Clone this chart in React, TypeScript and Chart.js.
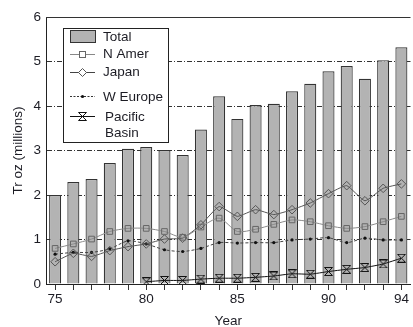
import React, { useEffect, useRef } from 'react';
import { Chart, registerables } from 'chart.js';

Chart.register(...registerables);

const years = ['75', '76', '77', '78', '79', '80', '81', '82', '83', '84', '85', '86', '87', '88', '89', '90', '91', '92', '93', '94'];
const total = [2.0, 2.29, 2.36, 2.72, 3.04, 3.08, 3.01, 2.9, 3.47, 4.22, 3.71, 4.02, 4.05, 4.33, 4.5, 4.78, 4.9, 4.61, 5.03, 5.32];
const nAmer = [0.8, 0.9, 1.01, 1.18, 1.25, 1.25, 1.18, 1.05, 1.28, 1.48, 1.18, 1.23, 1.34, 1.44, 1.4, 1.31, 1.25, 1.29, 1.4, 1.52];
const japan = [0.5, 0.69, 0.62, 0.75, 0.84, 0.9, 1.01, 1.03, 1.33, 1.74, 1.52, 1.67, 1.56, 1.67, 1.82, 2.03, 2.21, 1.87, 2.15, 2.25];
const wEurope = [0.67, 0.71, 0.71, 0.79, 0.97, 0.9, 0.77, 0.73, 0.8, 0.93, 0.92, 0.93, 0.93, 0.99, 1.01, 1.04, 0.93, 1.03, 0.99, 0.99];
const pacific = [null, null, null, null, null, 0.05, 0.08, 0.08, 0.11, 0.13, 0.13, 0.15, 0.18, 0.23, 0.22, 0.28, 0.33, 0.37, 0.45, 0.58];
const shownYears = ['75', '80', '85', '90', '94'];
const legendLabels = ['Total', 'N Amer', 'Japan', 'W Europe', 'Pacific', 'Basin'];

const FONT = '"Liberation Sans", Arial, Helvetica, sans-serif';
const TEXT = '#1c1c24';

function makeHourglass(): HTMLCanvasElement {
  const c = document.createElement('canvas');
  c.width = 9;
  c.height = 9;
  const g = c.getContext('2d')!;
  g.strokeStyle = '#111';
  g.lineWidth = 1;
  g.beginPath();
  g.moveTo(0.5, 0.5);
  g.lineTo(8.5, 0.5);
  g.moveTo(0.5, 8.5);
  g.lineTo(8.5, 8.5);
  g.moveTo(0.5, 0.5);
  g.lineTo(8.5, 8.5);
  g.moveTo(8.5, 0.5);
  g.lineTo(0.5, 8.5);
  g.stroke();
  return c;
}

export default function App() {
  const ref = useRef<HTMLCanvasElement | null>(null);

  useEffect(() => {
    if (!ref.current) return;
    const hourglass = makeHourglass();

    const frameAndLegend = {
      id: 'frameAndLegend',
      afterDraw(chart: any) {
        const { ctx, chartArea } = chart;
        ctx.save();
        // top frame line
        ctx.strokeStyle = '#333';
        ctx.lineWidth = 1;
        ctx.beginPath();
        ctx.moveTo(chartArea.left, chartArea.top + 0.5);
        ctx.lineTo(chartArea.right, chartArea.top + 0.5);
        ctx.stroke();

        // legend box
        const bx = 63.5, by = 28.5, bw = 105, bh = 114;
        ctx.fillStyle = '#fff';
        ctx.fillRect(bx, by, bw, bh);
        ctx.strokeStyle = '#222';
        ctx.lineWidth = 1;
        ctx.strokeRect(bx, by, bw, bh);

        const x0 = 70, x1 = 95, xm = 82.5;
        // Total
        ctx.fillStyle = '#b3b3b3';
        ctx.fillRect(70.5, 30.5, 25, 12);
        ctx.strokeStyle = '#333';
        ctx.strokeRect(70.5, 30.5, 25, 12);

        // N Amer
        ctx.strokeStyle = '#888';
        ctx.beginPath();
        ctx.moveTo(x0, 54.5);
        ctx.lineTo(x1, 54.5);
        ctx.stroke();
        ctx.fillStyle = '#fff';
        ctx.fillRect(xm - 3, 51.5, 6, 6);
        ctx.strokeStyle = '#666';
        ctx.strokeRect(xm - 3, 51.5, 6, 6);

        // Japan
        ctx.strokeStyle = '#444';
        ctx.beginPath();
        ctx.moveTo(x0, 72.5);
        ctx.lineTo(x1, 72.5);
        ctx.stroke();
        ctx.fillStyle = '#fff';
        ctx.beginPath();
        ctx.moveTo(xm, 68.5);
        ctx.lineTo(xm + 4, 72.5);
        ctx.lineTo(xm, 76.5);
        ctx.lineTo(xm - 4, 72.5);
        ctx.closePath();
        ctx.fill();
        ctx.strokeStyle = '#555';
        ctx.stroke();

        // W Europe
        ctx.strokeStyle = '#333';
        ctx.setLineDash([2, 1.5]);
        ctx.beginPath();
        ctx.moveTo(x0, 96.5);
        ctx.lineTo(x1, 96.5);
        ctx.stroke();
        ctx.setLineDash([]);
        ctx.fillStyle = '#111';
        ctx.beginPath();
        ctx.arc(xm, 96.5, 1.6, 0, Math.PI * 2);
        ctx.fill();

        // Pacific Basin
        ctx.strokeStyle = '#111';
        ctx.beginPath();
        ctx.moveTo(x0, 116.5);
        ctx.lineTo(x1, 116.5);
        ctx.stroke();
        ctx.drawImage(hourglass, xm - 4.5, 112);

        ctx.fillStyle = TEXT;
        ctx.font = '13.5px ' + FONT;
        ctx.textBaseline = 'middle';
        ctx.textAlign = 'left';
        ctx.fillText(legendLabels[0], 103, 37);
        ctx.fillText(legendLabels[1], 103, 54);
        ctx.fillText(legendLabels[2], 103, 72);
        ctx.fillText(legendLabels[3], 103, 97);
        ctx.fillText(legendLabels[4], 105, 117);
        ctx.fillText(legendLabels[5], 105, 133);
        ctx.restore();
      },
    };

    const chart = new Chart(ref.current, {
      type: 'bar',
      data: {
        labels: years,
        datasets: [
          {
            type: 'line',
            label: 'N Amer',
            data: nAmer,
            order: 0,
            borderColor: '#8a8a8a',
            borderWidth: 1,
            tension: 0.25,
            pointStyle: 'rect',
            pointRadius: 4,
            pointBorderColor: '#666',
            pointBorderWidth: 1,
            pointBackgroundColor: 'rgba(0,0,0,0)',
          },
          {
            type: 'line',
            label: 'Japan',
            data: japan,
            order: 0,
            borderColor: '#555',
            borderWidth: 1,
            tension: 0.15,
            pointStyle: 'rectRot',
            pointRadius: 4.3,
            pointBorderColor: '#555',
            pointBorderWidth: 1,
            pointBackgroundColor: 'rgba(0,0,0,0)',
          },
          {
            type: 'line',
            label: 'W Europe',
            data: wEurope,
            order: 0,
            borderColor: '#444',
            borderWidth: 1,
            borderDash: [3, 2],
            tension: 0.25,
            pointStyle: 'circle',
            pointRadius: 1.6,
            pointBorderWidth: 0,
            pointBackgroundColor: '#111',
          },
          {
            type: 'line',
            label: 'Pacific Basin',
            data: pacific,
            order: 0,
            borderColor: '#111',
            borderWidth: 1,
            tension: 0.15,
            pointStyle: hourglass as any,
            pointRadius: 4.5,
          },
          {
            type: 'bar',
            label: 'Total',
            data: total,
            order: 1,
            backgroundColor: '#b3b3b3',
            borderColor: '#333',
            borderWidth: 1.2,
            borderSkipped: 'bottom',
            barPercentage: 0.66,
            categoryPercentage: 1,
          },
        ] as any,
      },
      options: {
        animation: false,
        responsive: false,
        events: [],
        layout: { padding: { left: 0, right: 0, top: 17, bottom: 0 } },
        plugins: { legend: { display: false }, tooltip: { enabled: false } },
        scales: {
          x: {
            offset: true,
            grid: {
              offset: false,
              drawOnChartArea: false,
              drawTicks: true,
              tickLength: 6,
              tickColor: '#333',
              tickWidth: 1,
            },
            border: { display: true, color: '#222', width: 1 },
            ticks: {
              autoSkip: false,
              maxRotation: 0,
              padding: 1,
              color: TEXT,
              font: { family: FONT, size: 13.5 },
              callback: function (this: any, _v: any, i: number) {
                const l = years[i];
                return shownYears.includes(l) ? l : '';
              },
            },
            title: {
              display: true,
              text: 'Year',
              color: TEXT,
              font: { family: FONT, size: 13.5, lineHeight: 0.9 },
              padding: { top: 0, bottom: 0 },
            },
            afterFit(scale: any) {
              scale.height = 43;
            },
          },
          y: {
            min: 0,
            max: 6,
            ticks: {
              stepSize: 1,
              padding: 5,
              color: TEXT,
              font: { family: FONT, size: 13.5 },
            },
            grid: {
              drawTicks: false,
              color: (ctx: any) => (ctx.tick && (ctx.tick.value === 0 || ctx.tick.value === 6) ? 'rgba(0,0,0,0)' : '#333'),
              lineWidth: 1,
            },
            border: { display: true, color: '#222', width: 1, dash: [5, 2, 1, 2] },
            title: {
              display: true,
              text: 'Tr oz (millions)',
              color: TEXT,
              font: { family: FONT, size: 13.5 },
              padding: { top: 10, bottom: 0 },
            },
            afterFit(scale: any) {
              scale.width = 46;
            },
          },
        },
      } as any,
      plugins: [frameAndLegend],
    });

    return () => chart.destroy();
  }, []);

  return (
    <div style={{ position: 'absolute', left: 0, top: 0, width: 416, height: 327, overflow: 'hidden' }}>
      <canvas ref={ref} width={416} height={327} style={{ display: 'block' }} />
    </div>
  );
}
